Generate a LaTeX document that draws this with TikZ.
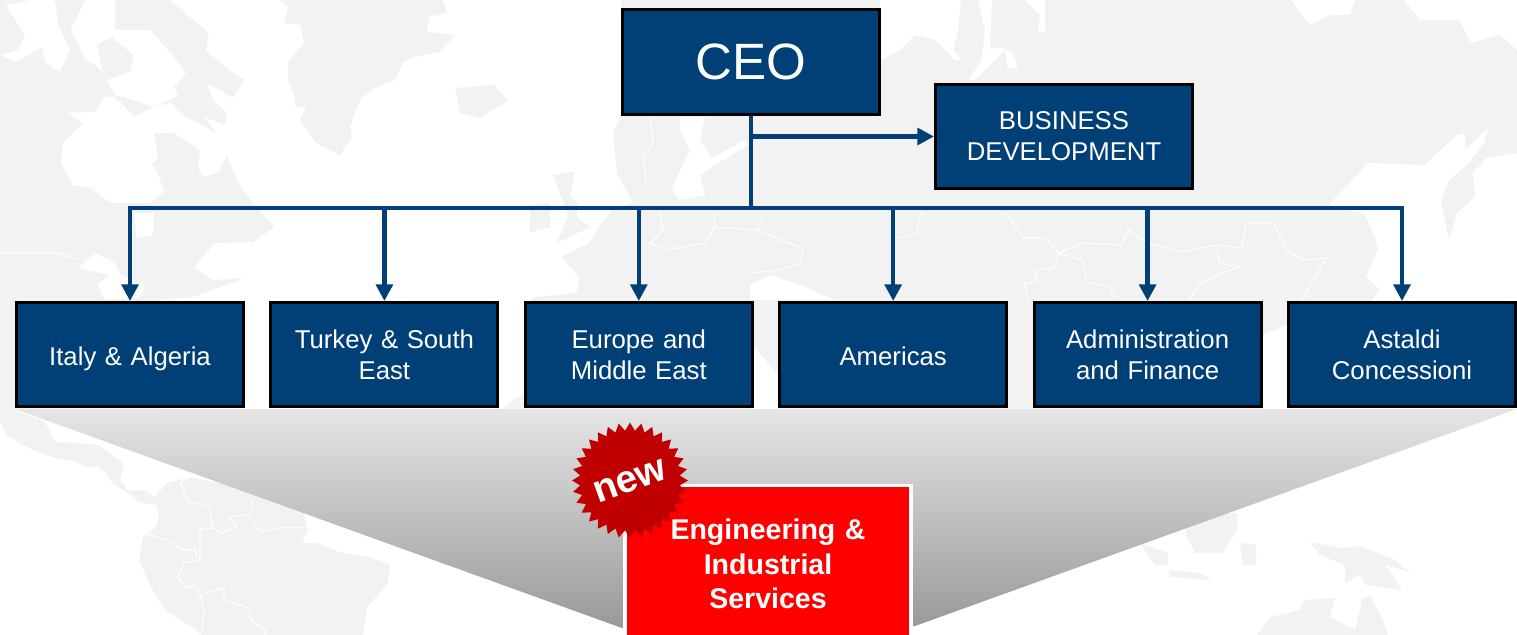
\documentclass[tikz,border=0pt]{standalone}
\usepackage{xcolor}
\usepackage{fontspec}
\setmainfont{Liberation Sans}
\usetikzlibrary{shapes.geometric}
\usetikzlibrary{arrows.meta}
\definecolor{boxblue}{HTML}{004077}
\definecolor{landgray}{HTML}{F2F2F2}
\definecolor{burstred}{HTML}{C00000}

\begin{document}
\begin{tikzpicture}[x=0.75pt, y=-0.75pt,
  unit/.style={rectangle, draw=black, line width=2.25pt, fill=boxblue, text=white, minimum width=170.25pt, minimum height=78pt, text width=160pt, align=center, inner sep=0pt, font=\fontsize{19.3}{23.2}\selectfont},
  oneline/.style={unit, text height=16pt, text depth=0pt},
  head/.style={unit, minimum width=192.75pt, font=\fontsize{38.3}{44}\selectfont},
  side/.style={unit, minimum width=192.75pt},
  newunit/.style={rectangle, draw=white, line width=2.6pt, fill=red, text=white, minimum width=214.3pt, minimum height=117.4pt, text width=190pt, align=center, inner sep=0pt, font=\fontsize{21.4}{26}\selectfont\bfseries},
  burst/.style={star, star points=32, star point ratio=1.16, fill=burstred, minimum size=87pt, inner sep=0pt},
  burstlabel/.style={text=white, inner sep=0pt, rotate=20, font=\fontsize{29}{30}\selectfont\bfseries},
  line/.style={draw=boxblue, line width=3.3pt, -{Triangle[length=12.5pt, width=12.5pt]}},
  land/.style={fill=landgray},
  sea/.style={fill=white},
  border/.style={draw=white, line width=0.8pt}]
\useasboundingbox (0,0) rectangle (1517,635);
\clip (0,0) rectangle (1517,635);

% map behind the chart
\fill[land] (0,0) rectangle (1517,410);
\fill[sea] (61,163) -- (73,185) -- (91,188) -- (111,203) -- (150,203) -- (164,192) -- (158,173) -- (152,165) -- (158,157) -- (154,133) -- (174,133) -- (200,150) -- (198,168) -- (204,177) -- (219,172) -- (227,155) -- (237,180) -- (253,203) -- (275,227) -- (253,242) -- (215,243) -- (194,267) -- (213,280) -- (245,278) -- (194,297) -- (160,300) -- (160,410) -- (500,410) -- (524,393) -- (530,300) -- (534,297) -- (577,293) -- (579,277) -- (561,257) -- (589,243) -- (600,225) -- (612,210) -- (633,203) -- (617,173) -- (613,133) -- (621,115) -- (621,0) -- (443,0) -- (447,13) -- (429,17) -- (427,32) -- (456,35) -- (439,52) -- (411,58) -- (403,63) -- (395,80) -- (374,88) -- (360,100) -- (350,127) -- (352,137) -- (340,155) -- (316,143) -- (300,120) -- (306,105) -- (296,108) -- (294,95) -- (288,80) -- (288,62) -- (304,43) -- (300,25) -- (284,23) -- (288,7) -- (279,0) -- (170,0) -- (190,17) -- (209,33) -- (206,50) -- (229,70) -- (245,80) -- (233,98) -- (207,83) -- (213,100) -- (227,113) -- (225,125) -- (204,117) -- (217,133) -- (186,117) -- (170,103) -- (154,107) -- (134,117) -- (115,97) -- (105,97) -- (95,112) -- (67,113) -- (83,123) -- (63,143) -- cycle;
\fill[sea] (107,30) -- (150,30) -- (174,57) -- (186,73) -- (174,87) -- (178,95) -- (154,107) -- (134,100) -- (115,95) -- (107,80) -- (130,72) -- (134,55) -- (115,40) -- cycle;
\fill[sea] (6,5) -- (30,0) -- (55,0) -- (58,25) -- (70,50) -- (60,72) -- (45,62) -- (42,47) -- (15,62) -- (0,55) -- (18,50) -- (25,35) -- cycle;
\fill[sea] (85,0) -- (115,0) -- (115,35) -- (97,45) -- (103,72) -- (95,65) -- (85,58) -- (71,30) -- cycle;
\fill[sea] (79,268) -- (95,253) -- (115,262) -- (120,275) -- (145,285) -- (140,297) -- (105,300) -- (98,285) -- (110,275) -- cycle;
\fill[sea] (134,213) -- (154,213) -- (153,235) -- (137,238) -- cycle;
\fill[sea] (880,0) -- (961,0) -- (958,30) -- (953,50) -- (962,60) -- (955,60) -- (935,40) -- (915,35) -- (900,50) -- (880,60) -- cycle;
\fill[sea] (978,0) -- (992,0) -- (990,50) -- (1000,47) -- (1012,52) -- (1018,68) -- (1008,68) -- (1005,50) -- (990,65) -- (975,80) -- (968,80) -- (982,60) -- (985,30) -- cycle;
\fill[sea] (1025,0) -- (1045,0) -- (1045,33) -- (1038,30) -- (1040,15) -- cycle;
\fill[sea] (1291,0) -- (1355,0) -- (1350,15) -- (1330,15) -- (1310,25) -- (1300,12) -- cycle;
\fill[sea] (1404,0) -- (1517,0) -- (1517,50) -- (1500,35) -- (1470,43) -- (1460,20) -- (1420,20) -- (1412,10) -- cycle;
\fill[sea] (1327,207) -- (1368,163) -- (1425,165) -- (1433,157) -- (1457,135) -- (1465,133) -- (1465,150) -- (1488,128) -- (1484,143) -- (1469,163) -- (1449,180) -- (1441,200) -- (1447,233) -- (1449,240) -- (1457,213) -- (1475,197) -- (1473,173) -- (1486,158) -- (1517,153) -- (1517,410) -- (1262,410) -- (1262,335) -- (1287,325) -- (1372,300) -- (1380,290) -- (1366,277) -- (1378,250) -- (1376,240) -- (1364,213) -- cycle;
\fill[sea] (680,117) -- (705,117) -- (700,140) -- (712,158) -- (745,140) -- (748,145) -- (715,165) -- (700,175) -- (705,195) -- (680,200) -- (672,190) -- (680,170) -- (690,150) -- (680,130) -- cycle;
\fill[sea] (750,285) -- (770,275) -- (800,285) -- (835,300) -- (750,300) -- cycle;
\fill[sea] (753,345) -- (778,375) -- (778,410) -- (753,410) -- cycle;
\fill[land] (455,88) -- (494,85) -- (508,100) -- (480,118) -- (460,113) -- cycle;
\fill[land] (553,175) -- (575,172) -- (570,195) -- (578,205) -- (577,217) -- (590,227) -- (557,243) -- (568,215) -- cycle;
\fill[land] (530,205) -- (550,203) -- (550,227) -- (530,232) -- cycle;
\fill[land] (0,410) -- (15,410) -- (45,422) -- (55,442) -- (75,443) -- (98,445) -- (124,463) -- (120,480) -- (128,491) -- (143,490) -- (155,497) -- (167,483) -- (190,477) -- (300,500) -- (308,530) -- (302,543) -- (318,543) -- (339,552) -- (369,557) -- (390,565) -- (388,583) -- (367,607) -- (363,635) -- (200,635) -- (196,630) -- (165,610) -- (151,587) -- (139,560) -- (143,537) -- (155,528) -- (159,517) -- (157,505) -- (139,502) -- (130,494) -- (112,483) -- (106,473) -- (98,467) -- (86,467) -- (76,462) -- (51,457) -- (29,448) -- (6,435) -- (0,420) -- cycle;
\fill[land] (1185,513) -- (1237,513) -- (1237,530) -- (1222,553) -- (1195,553) -- (1186,535) -- cycle;
\fill[land] (1140,543) -- (1168,553) -- (1168,565) -- (1155,565) -- cycle;
\fill[land] (1168,570) -- (1200,573) -- (1212,580) -- (1170,577) -- cycle;
\fill[land] (1240,543) -- (1256,545) -- (1256,565) -- (1243,565) -- cycle;
\fill[land] (1310,542) -- (1342,548) -- (1360,546) -- (1395,560) -- (1410,572) -- (1385,565) -- (1402,590) -- (1365,585) -- (1360,575) -- (1345,583) -- (1345,565) -- (1320,555) -- cycle;
\fill[land] (1257,635) -- (1270,617) -- (1300,610) -- (1305,600) -- (1335,598) -- (1330,617) -- (1355,630) -- (1362,600) -- (1370,595) -- (1383,620) -- (1388,635) -- cycle;
\path[border] (0,253) -- (59,253) -- (79,260);
\path[border] (650,117) -- (653,143) -- (643,157) -- (647,187);
\path[border] (713,213) -- (715,227) -- (757,230) -- (763,217);
\path[border] (757,230) -- (780,240) -- (803,248) -- (800,263) -- (780,270) -- (753,273);
\path[border] (660,213) -- (663,230) -- (650,243) -- (665,250) -- (705,243) -- (715,227);
\path[border] (1006,213) -- (1024,238) -- (1045,238) -- (1059,253) -- (1083,243) -- (1122,245) -- (1128,230) -- (1148,243) -- (1181,252) -- (1217,245) -- (1242,248) -- (1246,223) -- (1274,223) -- (1286,250) -- (1303,260) -- (1327,258) -- (1311,283) -- (1303,300);
\path[border] (1059,253) -- (1083,260) -- (1087,282) -- (1108,287) -- (1116,298);
\path[border] (1059,253) -- (1055,267) -- (1036,270) -- (1036,282) -- (1024,283) -- (1028,300);
\path[border] (1217,250) -- (1219,263) -- (1240,267) -- (1225,272) -- (1201,283) -- (1189,300);
\path[border] (921,213) -- (917,233) -- (900,238);
\path[border] (196,530) -- (212,528) -- (210,507) -- (188,502) -- (180,483) -- (190,477);
\path[border] (200,528) -- (200,560) -- (184,563) -- (178,577) -- (186,588) -- (196,585) -- (200,595) -- (224,588) -- (224,600) -- (249,608) -- (251,620) -- (265,630) -- (265,635);
\path[border] (143,533) -- (167,540) -- (182,550) -- (196,550) -- (196,557);
\path[border] (200,595) -- (204,610) -- (202,630) -- (200,635);
\path[border] (212,527) -- (222,533) -- (237,527) -- (229,517) -- (249,515) -- (253,503) -- (249,497);
\path[border] (253,523) -- (261,532) -- (286,527) -- (304,528);

% funnel under the units
\shade[top color=black!10, bottom color=black!40] (15,409) -- (1517,409) -- (915,626) -- (622,628) -- cycle;

\node[head] (ceo) at (751,62) {CEO};
\node[side] (business) at (1064,136.5) {BUSINESS\\DEVELOPMENT};
\matrix[column sep=18.3pt, inner sep=0pt] (units) at (766,354.5) {
  \node[oneline] (italy) {Italy \& Algeria};
  & \node[unit] (turkey) {Turkey \& South\\East};
  & \node[unit] (europe) {Europe and\\Middle East};
  & \node[oneline] (americas) {Americas};
  & \node[unit] (finance) {Administration\\and Finance};
  & \node[unit] (concessions) {Astaldi\\Concessioni};\\
};
\coordinate (bus) at (751,208);

\begin{scope} [every path/.style=line]
\path (ceo.south |- business) -- (business);
\path (bus) -| (italy);
\path (turkey |- bus) -- (turkey);
\path (europe |- bus) -- (europe);
\path (americas |- bus) -- (americas);
\path (finance |- bus) -- (finance);
\path (bus) -| (concessions);
\end{scope}
\draw[draw=boxblue, line width=3.3pt] (ceo) -- (bus);

\node[newunit] (services) at (768,564) {Engineering \&\\Industrial\\Services};
\node[burst] (new) at (630,480.5) {};
\node[burstlabel] (newlabel) at (630,481.5) {new};
\end{tikzpicture}
\end{document}
